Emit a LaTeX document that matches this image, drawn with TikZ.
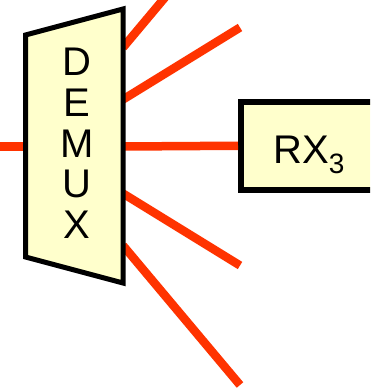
\documentclass[tikz,border=0pt]{standalone}
\usepackage{fontspec}
\setmainfont{Liberation Sans}
\definecolor{fibre}{RGB}{255,51,0}
\definecolor{paleyellow}{RGB}{255,255,204}
\tikzset{
  fibreline/.style={draw=fibre, line width=8.5pt, line cap=butt},
  demuxbox/.style={draw=black, fill=paleyellow, line width=5pt, line join=miter},
  rxbox/.style={draw=black, fill=paleyellow, line width=6pt, inner sep=0pt},
  letter/.style={font=\fontsize{40}{41}\selectfont, anchor=base, inner sep=0pt},
}
\begin{document}
\begin{tikzpicture}[x=1pt,y=-1pt]
\useasboundingbox (0,0) rectangle (370,391);
\clip (0,0) rectangle (370,391);
% coordinates of the demultiplexer
\coordinate (tl) at (25.5,35);
\coordinate (tr) at (123,9);
\coordinate (br) at (123,283);
\coordinate (bl) at (25.5,257);
\coordinate (inL) at (25.5,146.5);
\coordinate (src) at (0,146.5);
\coordinate (o1) at (123,47.5);
\coordinate (o2) at (123,99.5);
\coordinate (o3) at (123,146.5);
\coordinate (o4) at (123,193.5);
\coordinate (o5) at (123,245.5);
\coordinate (e1) at (240,-92);
\coordinate (e2) at (240,27.5);
\coordinate (e4) at (240,265.5);
\coordinate (e5) at (240,385);
% receiver box
\node[rxbox, minimum width=136pt, minimum height=88.5pt] (rx) at (309,145.75) {};
% fibres
\draw[fibreline] (src) -- (inL);
\draw[fibreline] (o1) -- (e1);
\draw[fibreline] (o2) -- (e2);
\draw[fibreline] (o3) -- (rx.west);
\draw[fibreline] (o4) -- (e4);
\draw[fibreline] (o5) -- (e5);
% demux body
\draw[demuxbox] (tl) -- (tr) -- (br) -- (bl) -- cycle;
\node[letter] (d1) at (77,75) {D};
\node[letter] (d2) at (77,116) {E};
\node[letter] (d3) at (77,157) {M};
\node[letter] (d4) at (77,197) {U};
\node[letter] (d5) at (77,238) {X};
% receiver label
\node[font=\fontsize{40}{40}\selectfont, anchor=base west, inner sep=0pt] (rxlabel) at (273,163)
  {RX\raisebox{-10pt}{\fontsize{28}{28}\selectfont 3}};
\end{tikzpicture}
\end{document}
